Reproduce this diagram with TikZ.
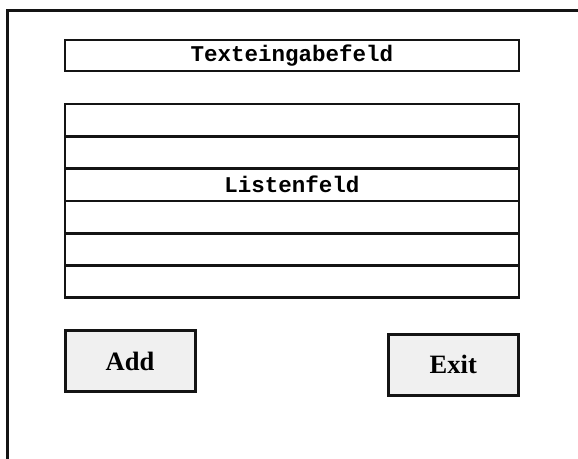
\documentclass[tikz,border=0pt]{standalone}
\usepackage{fontspec}
\newfontfamily\monob{Liberation Mono}
\newfontfamily\serifb{Liberation Serif}
\definecolor{btngray}{HTML}{F0F0F0}
\definecolor{framec}{HTML}{141414}
\begin{document}
\begin{tikzpicture}[x=1pt,y=-1pt,
  box/.style={draw=framec,line width=2.8pt,fill=white},
  btn/.style={draw=framec,line width=3pt,fill=btngray},
  monolabel/.style={font=\monob\bfseries\fontsize{22.5}{26}\selectfont},
  btnlabel/.style={font=\serifb\bfseries\fontsize{26.5}{30}\selectfont}]
\useasboundingbox (0,0) rectangle (578,458);
\clip (0,0) rectangle (578,458);
% outer frame
\coordinate (ftr) at (580,10);
\coordinate (ftl) at (7,10);
\coordinate (fbl) at (7,460);
\draw[framec,line width=3pt] (ftr) -- (ftl) -- (fbl);
% text input
\node[box,minimum width=454pt,minimum height=31pt,inner sep=0pt,monolabel] (tf) at (292,55.5) {Texteingabefeld};
% list rows
\foreach \i/\t in {0/,1/,2/Listenfeld,3/,4/,5/} {
  \node[box,minimum width=454pt,minimum height=32.3pt,inner sep=0pt,monolabel] (row\i) at (292,{104+32.3*\i+16.15}) {\t};
}
% buttons
\node[btn,minimum width=130pt,minimum height=61pt,inner sep=0pt,btnlabel] (add) at (130,361.2) {Add};
\node[btn,minimum width=130pt,minimum height=61pt,inner sep=0pt,btnlabel] (exit) at (453.3,364.5) {Exit};
\end{tikzpicture}
\end{document}
